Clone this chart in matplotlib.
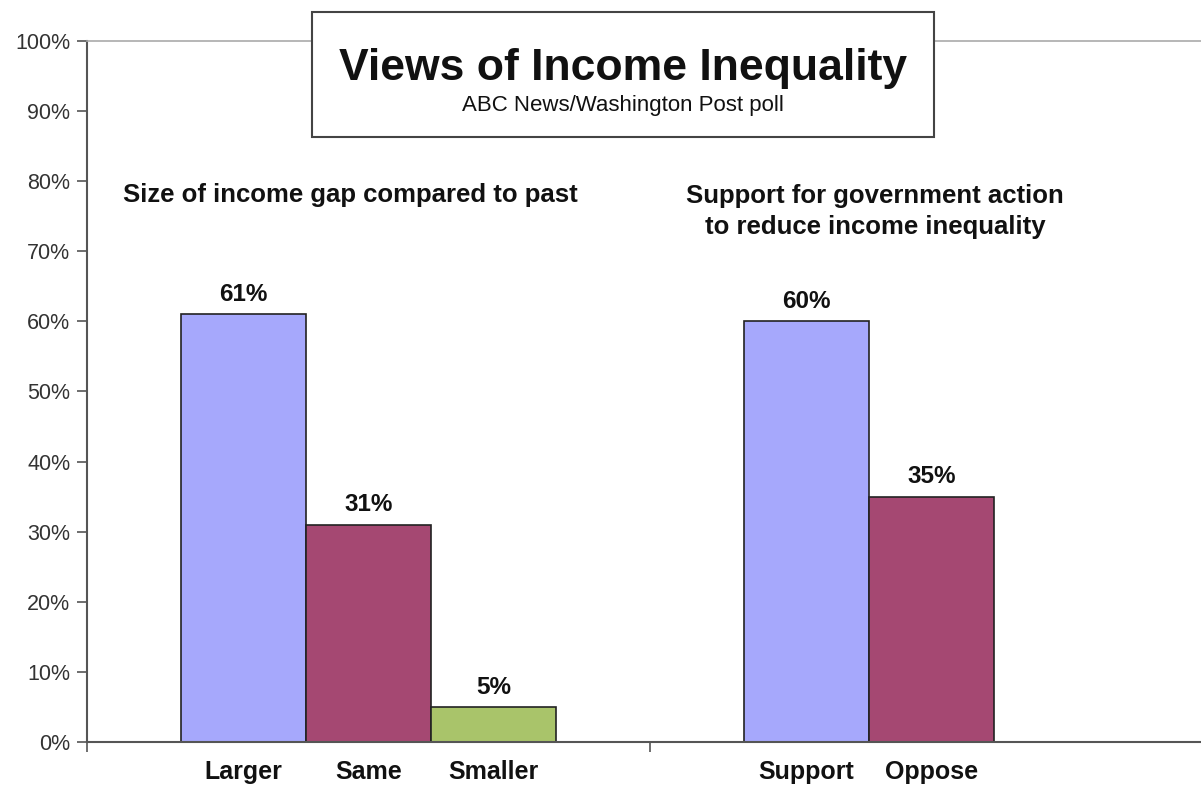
import numpy as np
import matplotlib.pyplot as plt
from matplotlib.patches import Rectangle
from matplotlib.ticker import PercentFormatter

plt.rcParams['font.family'] = ['Liberation Sans', 'DejaVu Sans']

# data
groups = ['Size of income gap compared to past',
          'Support for government action\nto reduce income inequality']
gap_labels = ['Larger', 'Same', 'Smaller']
gap_values = [61, 31, 5]
govt_labels = ['Support', 'Oppose']
govt_values = [60, 35]
colors = ['#a6a8fc', '#a54872', '#a9c46a']

fig = plt.figure(figsize=(12.01, 7.85), dpi=100)
ax = fig.add_axes([0.0724, 0.0548, 0.9376, 0.893])

w = 0.222
offsets = np.array([-1, 0, 1]) * w
centers = []
names = []
for gi, (labs, vals) in enumerate([(gap_labels, gap_values), (govt_labels, govt_values)]):
    for k, (lab, v) in enumerate(zip(labs, vals)):
        x = gi + offsets[k]
        ax.bar(x, v, width=w, color=colors[k], edgecolor='#222222', linewidth=1.2, zorder=2)
        ax.text(x, v + 1.2, f'{v}%', ha='center', va='bottom', fontsize=17.5,
                fontweight='bold', color='#111111')
        centers.append(x)
        names.append(lab)

ax.set_xlim(-0.5, 1.5)
ax.set_ylim(0, 100)
ax.set_yticks(np.arange(0, 101, 10))
ax.yaxis.set_major_formatter(PercentFormatter(decimals=0))
ax.tick_params(axis='y', length=7, width=1.2, color='#555555', labelsize=15.5,
               labelcolor='#333333', pad=5)

ax.set_xticks(centers)
ax.set_xticklabels(names, fontsize=18, fontweight='bold', color='#111111')
ax.tick_params(axis='x', which='major', length=0, pad=13)
ax.set_xticks([-0.5, 0.5, 1.5], minor=True)
ax.tick_params(axis='x', which='minor', length=7, width=1.2, color='#555555')

for s in ['left', 'bottom']:
    ax.spines[s].set_color('#555555')
    ax.spines[s].set_linewidth(1.5)
ax.spines['top'].set_color('#aaaaaa')
ax.spines['top'].set_linewidth(1.2)
ax.spines['right'].set_visible(False)

# group headings
ax.text(-0.032, 78.0, groups[0], ha='center', va='center', fontsize=18.5,
        fontweight='bold', color='#111111')
ax.text(0.9, 75.7, groups[1], ha='center', va='center', fontsize=18.5,
        fontweight='bold', color='#111111', linespacing=1.35)

# title box
box = Rectangle((0.2598, 0.8255), 0.518, 0.159, transform=fig.transFigure,
                facecolor='white', edgecolor='#444444', linewidth=1.5, zorder=5)
fig.add_artist(box)
fig.text(0.5187, 0.913, 'Views of Income Inequality', ha='center', va='center',
         fontsize=32, fontweight='bold', color='#111111', zorder=6)
fig.text(0.5187, 0.865, 'ABC News/Washington Post poll', ha='center', va='center',
         fontsize=16, color='#111111', zorder=6)

fig.savefig('out.png', dpi=100)
